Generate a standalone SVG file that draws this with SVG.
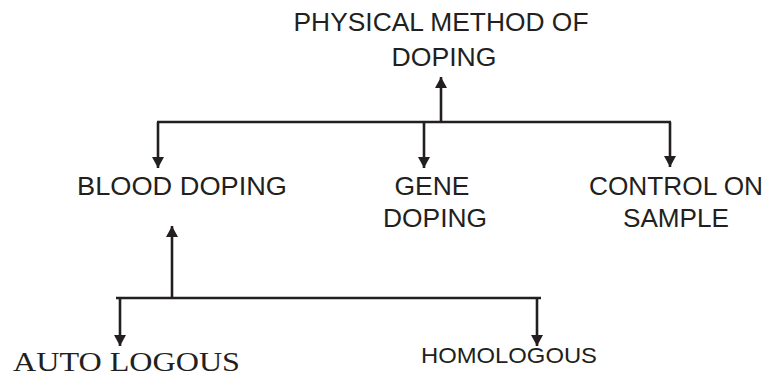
<svg xmlns="http://www.w3.org/2000/svg" width="773" height="376" viewBox="0 0 773 376">
<style>
.s{font-family:"Liberation Sans",Arial,sans-serif;font-size:25px;fill:#231f20;text-anchor:middle}
.t{font-family:"Liberation Serif","Times New Roman",serif;font-size:28px;fill:#231f20}
.ln{stroke:#231f20;stroke-width:2.6;fill:none}
</style>
<defs>
<marker id="ah" viewBox="0 0 11 12" refX="11" refY="6" markerWidth="11" markerHeight="12" markerUnits="userSpaceOnUse" orient="auto">
<path d="M0,0 L11,6 L0,12 Z" fill="#231f20"/>
</marker>
</defs>
<g id="physical">
<text class="s" x="441" y="31" textLength="295" lengthAdjust="spacingAndGlyphs">PHYSICAL METHOD OF</text>
<text class="s" x="444" y="66" textLength="105" lengthAdjust="spacingAndGlyphs">DOPING</text>
</g>
<g id="blood">
<text class="s" x="182" y="195" textLength="210" lengthAdjust="spacingAndGlyphs">BLOOD DOPING</text>
</g>
<g id="gene">
<text class="s" x="432" y="195" textLength="75" lengthAdjust="spacingAndGlyphs">GENE</text>
<text class="s" x="435" y="227" textLength="104" lengthAdjust="spacingAndGlyphs">DOPING</text>
</g>
<g id="control">
<text class="s" x="676" y="195" textLength="174" lengthAdjust="spacingAndGlyphs">CONTROL ON</text>
<text class="s" x="676" y="227" textLength="106" lengthAdjust="spacingAndGlyphs">SAMPLE</text>
</g>
<g id="autologous">
<text class="t" x="13" y="371" textLength="227" lengthAdjust="spacingAndGlyphs">AUTO LOGOUS</text>
</g>
<g id="homologous">
<text class="s" x="509" y="363" style="font-size:22px" textLength="176" lengthAdjust="spacingAndGlyphs">HOMOLOGOUS</text>
</g>
<g id="connectors">
<line class="ln" x1="441" y1="122" x2="441" y2="77" marker-end="url(#ah)"/>
<line class="ln" x1="157" y1="122" x2="671" y2="122"/>
<line class="ln" x1="158" y1="122" x2="158" y2="168" marker-end="url(#ah)"/>
<line class="ln" x1="424" y1="122" x2="424" y2="168" marker-end="url(#ah)"/>
<line class="ln" x1="670" y1="122" x2="670" y2="167" marker-end="url(#ah)"/>
<line class="ln" x1="172" y1="298" x2="172" y2="226" marker-end="url(#ah)"/>
<line class="ln" x1="116" y1="298" x2="541" y2="298"/>
<line class="ln" x1="120" y1="298" x2="120" y2="346" marker-end="url(#ah)"/>
<line class="ln" x1="537" y1="298" x2="537" y2="346" marker-end="url(#ah)"/>
</g>
</svg>
